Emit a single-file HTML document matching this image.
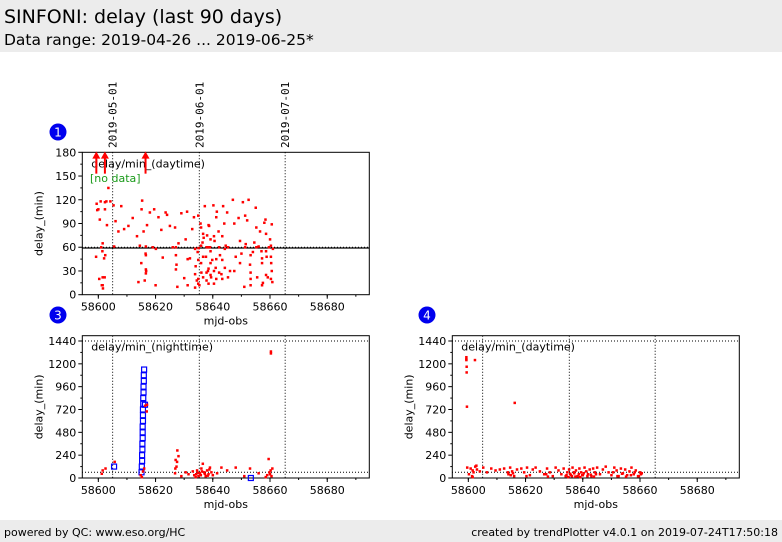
<!DOCTYPE html>
<html><head><meta charset="utf-8"><style>
body{margin:0;width:782px;height:542px;background:#fff;font-family:"DejaVu Sans","Liberation Sans",sans-serif;overflow:hidden;position:relative}
#hdr{position:absolute;left:0;top:0;width:782px;height:52px;background:#ececec}
#t1{position:absolute;left:4px;top:6px;font-size:19px;color:#000}
#t2{position:absolute;left:4px;top:31px;font-size:15.5px;color:#000}
#ftr{position:absolute;left:0;top:520px;width:782px;height:22px;background:#ececec;font-size:11px}
#fl{position:absolute;left:4px;top:6px}#fr{position:absolute;right:4px;top:6px}
svg{position:absolute;left:0;top:0}
</style></head><body>
<div id="hdr"><div id="t1">SINFONI: delay (last 90 days)</div><div id="t2">Data range: 2019-04-26 ... 2019-06-25*</div></div>
<div id="ftr"><span id="fl">powered by QC: www.eso.org/HC</span><span id="fr">created by trendPlotter v4.0.1 on 2019-07-24T17:50:18</span></div>
<svg id="s" width="782" height="542"></svg>
<script>
const xTicks=[58600,58620,58640,58660,58680];
const dateLines=[58605,58635.3,58665.3];
const dateLabels=["2019-05-01","2019-06-01","2019-07-01"];
const y1Ticks=[0,30,60,90,120,150,180];
const y3Ticks=[0,240,480,720,960,1200,1440];
// plot 1 (daytime, 0-180)
const d1=[58599.2,58599.4,58599.6,58600.0,58600.3,58600.5,58600.8,58601.0,58601.2,58601.4,58601.6,58602.0,58602.2,58602.4,58602.8,58603.0,58603.5,58604.2,58605.3,58605.5,58606.0,58607.0,58608.0,58609.0,58610.5,58612.0,58613.5,58614.0,58614.5,58615.0,58615.3,58615.8,58616.2,58616.5,58616.7,58617.0,58618.0,58619.0,58619.5,58620.0,58621.0,58622.0,58622.5,58623.5,58624.0,58625.0,58626.0,58626.8,58627.3,58627.6,58628.0,58629.0,58630.0,58630.5,58631.0,58632.0,58632.8,58633.4,58634.0,58634.4,58634.7,58635.0,58635.3,58635.7,58636.0,58636.4,58636.8,58637.2,58637.6,58638.0,58638.3,58638.7,58639.0,58639.4,58639.8,58640.2,58640.6,58641.0,58641.4,58642.0,58642.5,58643.0,58643.6,58644.0,58644.5,58645.0,58646.0,58647.0,58648.0,58649.0,58650.0,58650.5,58651.0,58651.5,58652.0,58652.5,58653.0,58654.0,58654.5,58655.0,58655.5,58656.0,58656.5,58657.0,58657.5,58658.0,58658.4,58658.8,58659.2,58659.6,58660.0,58660.4,58660.8,58661.0,
 58601.5,58601.5,58601.5,58602.3,58602.3,58615.1,58616.6,58616.6,58616.6,58616.6,58620.1,58627.1,58627.1,58627.1,58631.2,58631.2,58633.8,58633.8,58633.8,58634.9,58634.9,58634.9,58634.9,58635.9,58635.9,58635.9,58636.6,58636.6,58636.6,58637.8,58637.8,58637.8,58638.5,58638.5,58638.5,58638.5,58639.2,58639.2,58639.2,58639.2,58640.4,58640.4,58640.4,58641.2,58641.2,58641.2,58642.2,58642.2,58643.3,58643.3,58643.3,58644.2,58644.2,58645.3,58645.3,58647.5,58647.5,58649.5,58649.5,58651.3,58651.3,58653.2,58653.2,58653.2,58653.2,58655.2,58655.2,58657.2,58657.2,58657.2,58658.6,58658.6,58658.6,58660.3,58660.3,58660.3,58660.6,58660.6];
const v1=[48,115,107,108,20,95,118,60,12,55,8,46,22,50,118,88,135,118,113,61,93,80,112,83,87,97,74,16,62,40,119,80,18,52,30,88,104,60,108,12,98,82,47,104,101,87,60,85,38,10,65,103,21,70,105,46,83,98,36,18,54,59,12,90,28,66,72,112,48,75,30,87,60,22,44,113,68,34,105,80,50,26,112,90,62,104,30,120,48,97,52,117,10,64,94,120,38,54,66,110,22,61,80,55,15,91,95,48,22,60,70,40,16,58,
 65,22,12,117,108,108,61,50,27,32,58,60,50,32,45,12,58,26,9,100,44,20,14,85,40,62,48,22,77,60,28,18,88,60,33,14,70,40,25,55,74,30,14,98,45,20,60,28,74,44,20,58,34,60,22,90,30,68,40,60,100,50,20,28,12,85,60,40,12,46,77,55,25,62,48,20,89,30];
const arrows1=[58599.3,58602.3,58616.5];
// plot 3 (nighttime)
const d3=[58601.2,58601.5,58602.5,58605.7,58614.8,58615.2,58615.6,58616.0,58616.4,58616.9,58617.0,58626.8,58627.0,58627.3,58627.6,58628.0,58629.0,58630.5,58631.5,58633.0,58633.5,58634.0,58634.5,58635.0,58635.5,58636.0,58636.5,58637.0,58637.5,58638.0,58638.5,58639.0,58639.5,58640.0,58641.5,58643.0,58645.0,58648.0,58651.0,58653.0,58656.0,58658.5,58659.0,58659.5,58659.8,58660.0,58660.2,58660.5,58660.8,58660.3,58660.3,58634.2,58634.8,58635.8,58636.2,58637.2,58638.2,58638.8,58627.5,58626.9];
const v3=[45,80,100,170,30,10,70,100,760,700,770,50,190,120,290,230,20,60,40,70,30,10,80,20,50,100,150,60,20,80,40,110,60,30,50,110,80,110,20,100,50,10,30,200,60,40,80,20,100,1330,1310,40,55,30,70,45,25,90,170,100];
const dBlue=[58605.5,58615.1,58615.2,58615.3,58615.3,58615.4,58615.4,58615.5,58615.5,58615.5,58615.6,58615.6,58615.6,58615.7,58615.7,58615.8,58615.8,58615.9,58615.9,58616.0,58616.3,58653.3];
const vBlue=[120,60,120,180,240,300,360,420,480,540,600,660,720,780,840,900,960,1020,1080,1140,770,0];
// plot 4 (daytime, 0-1440)
const d4=[58599.3,58599.3,58599.4,58599.4,58599.5,58599.3,58602.3,58616.2,58599.6,58600.2,58600.8,58601.3,58601.8,58602.4,58603.0,58604.0,58605.2,58606.5,58608.0,58609.5,58611.0,58612.5,58614.0,58614.6,58615.3,58616.0,58617.0,58618.5,58619.5,58620.5,58621.5,58622.5,58623.5,58625.0,58626.5,58627.5,58628.5,58629.5,58630.5,58631.5,58632.5,58633.3,58634.0,58634.6,58635.2,58635.8,58636.4,58637.0,58637.6,58638.2,58638.8,58639.4,58640.0,58640.6,58641.2,58641.8,58642.4,58643.0,58643.6,58644.2,58645.0,58646.0,58647.0,58648.0,58649.0,58650.0,58651.0,58651.8,58652.5,58653.3,58654.0,58654.8,58655.5,58656.3,58657.0,58657.8,58658.5,58659.3,58660.0,58660.6,
 58601.5,58601.5,58602.8,58613.8,58614.8,58615.6,58620.3,58627.2,58627.8,58634.3,58634.9,58635.6,58636.2,58636.9,58637.4,58638.6,58639.1,58639.8,58640.3,58641.6,58642.8,58643.9,58644.6,58650.6,58652.1,58653.7,58655.1,58656.8,58658.1,58659.6,58660.3];
const v4=[1270,1250,1170,1110,750,1240,1240,790,110,40,100,20,60,120,90,70,110,60,100,80,90,100,40,110,70,20,90,100,60,110,30,90,110,70,40,100,60,20,110,80,40,100,20,60,90,30,110,50,80,20,100,60,30,110,70,40,90,20,100,60,110,40,90,120,60,30,110,80,20,100,50,90,30,70,110,40,80,20,60,50,
 10,80,130,60,30,50,20,40,15,30,10,45,20,60,15,40,10,30,50,20,35,15,40,60,20,45,15,30,60,20,40];

const NS="http://www.w3.org/2000/svg";
const svg=document.getElementById('s');
function mk(tag,attrs,parent){const e=document.createElementNS(NS,tag);for(const k in attrs)e.setAttribute(k,attrs[k]);(parent||svg).appendChild(e);return e;}
function drawPanel(o){
  const {L,R,T,B,yTop,yTopPx,yt,label,name,refLine}=o;
  const g=mk('g',{});
  
  
  const sx=v=>L+(v-58594.4)*(R-L)/(58694.7-58594.4);
  const sy=v=>B-v*(B-yTopPx)/yTop;
  const fr=mk('rect',{x:L,y:T,width:R-L,height:B-T,fill:'none',stroke:'#000','stroke-width':1},g);
  
  dateLines.forEach(d=>{const l=mk('line',{x1:sx(d),x2:sx(d),y1:T,y2:B,stroke:'#000','stroke-dasharray':'1,2','stroke-width':1},g);
    });
  refLine(g,sx,sy);
  xTicks.forEach(t=>{mk('line',{x1:sx(t),x2:sx(t),y1:B,y2:B+4,stroke:'#000'},g);
    const tx=mk('text',{x:sx(t),y:B+16,'font-size':11,'text-anchor':'middle'},g);tx.textContent=t;
    });
  for(let t=58590;t<=58690;t+=10){if(sx(t)>L&&sx(t)<R)mk('line',{x1:sx(t),x2:sx(t),y1:B,y2:B+2,stroke:'#000'},g);}
  yt.forEach((t,i)=>{mk('line',{x1:L-4,x2:L,y1:sy(t),y2:sy(t),stroke:'#000'},g);
    if(i<yt.length-1){const m=(t+yt[i+1])/2;mk('line',{x1:L-2,x2:L,y1:sy(m),y2:sy(m),stroke:'#000'},g);}
    const tx=mk('text',{x:L-6,y:sy(t)+4,'font-size':11,'text-anchor':'end'},g);tx.textContent=t;
    });
  const xl=mk('text',{x:(L+R)/2,y:B+30,'font-size':11,'text-anchor':'middle'},g);xl.textContent='mjd-obs';
  
  const cy=(T+B)/2;
  const yl=mk('text',{x:L-40,y:cy,'font-size':11,'text-anchor':'middle',transform:`rotate(-90 ${L-40} ${cy})`},g);yl.textContent='delay_(min)';
  
  const lb=mk('text',{x:L+9,y:T+15,'font-size':11},g);lb.textContent=label;
  
  return {g,sx,sy};
}
function dots(p,ds,vs,name){ds.forEach((d,i)=>{const c=mk('rect',{x:p.sx(d)-1.2,y:p.sy(vs[i])-1.2,width:2.5,height:2.5,fill:'#f00'},p.g);
  });}
function badge(x,y,n){const c=mk('circle',{cx:x,cy:y,r:8.5,fill:'#0000ee'});
  const t=mk('text',{x:x,y:y+4.5,'font-size':12,fill:'#fff','text-anchor':'middle'});t.textContent=n;}

const p1=drawPanel({L:82.3,R:369.3,T:152.3,B:294.7,yTop:180,yTopPx:152.3,yt:y1Ticks,label:'delay/min_(daytime)',name:'chart-daytime-180',
  refLine:(g,sx,sy)=>{mk('line',{x1:82,x2:369,y1:sy(60),y2:sy(60),stroke:'#000','stroke-dasharray':'1,2'},g);
    const l=mk('line',{x1:82,x2:369,y1:sy(59),y2:sy(59),stroke:'#000','stroke-width':1.2},g);}});
const nd=mk('text',{x:90,y:182,'font-size':11,fill:'#1a9a1a'},p1.g);nd.textContent='[no data]';

dots(p1,d1,v1,'point-daytime');
arrows1.forEach(d=>{const x=p1.sx(d);const a=mk('g',{},p1.g);
  mk('line',{x1:x,x2:x,y1:p1.sy(153),y2:p1.sy(176),stroke:'#f00','stroke-width':2},a);
  mk('polygon',{points:`${x-4},${p1.sy(172)} ${x+4},${p1.sy(172)} ${x},${p1.sy(181)}`,fill:'#f00'},a);});
dateLines.forEach((d,i)=>{const x=p1.sx(d)+4;const t=mk('text',{x:x,y:148,'font-size':11,'font-family':'DejaVu Sans Mono,Liberation Mono,monospace',transform:`rotate(-90 ${x} 148)`});
  t.textContent=dateLabels[i];});
badge(58,132,'1');

const p3=drawPanel({L:82.3,R:369.3,T:335.7,B:478,yTop:1440,yTopPx:341,yt:y3Ticks,label:'delay/min_(nighttime)',name:'chart-nighttime',
  refLine:(g,sx,sy)=>{mk('line',{x1:82,x2:369,y1:sy(60),y2:sy(60),stroke:'#000','stroke-dasharray':'1,2'},g);
    mk('line',{x1:82,x2:369,y1:sy(1440),y2:sy(1440),stroke:'#000','stroke-dasharray':'1,2'},g);}});
dBlue.forEach((d,i)=>{const r=mk('rect',{x:p3.sx(d)-2.5,y:p3.sy(vBlue[i])-2.5,width:5,height:5,fill:'none',stroke:'#0000ff','stroke-width':1.2},p3.g);
  });
dots(p3,d3,v3,'point-nighttime');
badge(58,315,'3');

const p4=drawPanel({L:452.3,R:739.3,T:335.7,B:478,yTop:1440,yTopPx:341,yt:y3Ticks,label:'delay/min_(daytime)',name:'chart-daytime-1440',
  refLine:(g,sx,sy)=>{mk('line',{x1:452,x2:739,y1:sy(60),y2:sy(60),stroke:'#000','stroke-dasharray':'1,2'},g);
    mk('line',{x1:452,x2:739,y1:sy(1440),y2:sy(1440),stroke:'#000','stroke-dasharray':'1,2'},g);}});
dots(p4,d4,v4,'point-daytime');
badge(427,315,'4');
</script>
</body></html>
